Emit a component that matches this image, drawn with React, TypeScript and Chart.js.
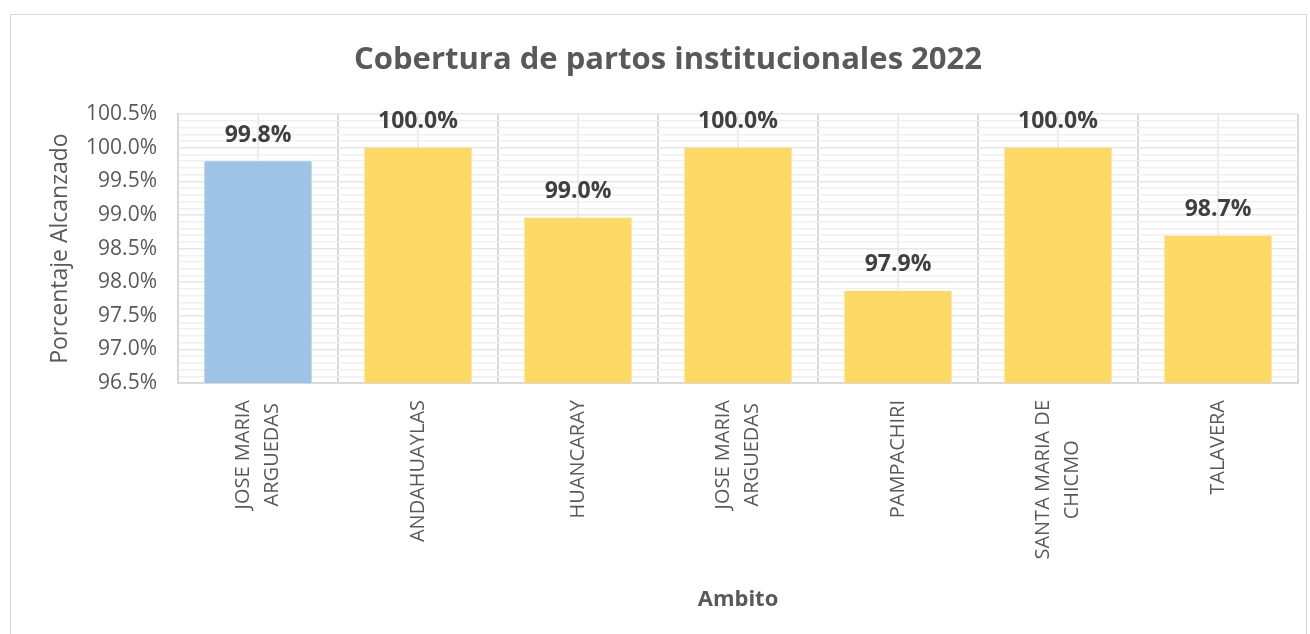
import React, { useEffect, useRef } from 'react';
import { Chart, registerables } from 'chart.js';

Chart.register(...registerables);

// ---- data ----
const categories: (string | string[])[] = [
  ['JOSE MARIA', 'ARGUEDAS'],
  'ANDAHUAYLAS',
  'HUANCARAY',
  ['JOSE MARIA', 'ARGUEDAS'],
  'PAMPACHIRI',
  ['SANTA MARIA DE', 'CHICMO'],
  'TALAVERA',
];
const values = [99.8, 100.0, 98.96, 100.0, 97.87, 100.0, 98.69];
const barColors = ['#9DC3E6', '#FFD966', '#FFD966', '#FFD966', '#FFD966', '#FFD966', '#FFD966'];
const yMin = 96.5;
const yMax = 100.5;
const yMinorStep = 0.1;
const yMajorStep = 0.5;
const titleText = 'Cobertura de partos institucionales 2022';
const yTitle = 'Porcentaje Alcanzado';
const xTitle = 'Ambito';

const FONT = '"Open Sans", sans-serif';
const TEXT = '#595959';

const isMajor = (v: number) => {
  const r = v / yMajorStep;
  return Math.abs(r - Math.round(r)) < 1e-6;
};

const xLabelPlugin = {
  id: 'xLabels',
  afterDraw(chart: any) {
    const sx = chart.scales.x;
    const ctx = chart.ctx;
    ctx.save();
    ctx.font = `20px ${FONT}`;
    ctx.fillStyle = TEXT;
    ctx.textAlign = 'center';
    ctx.textBaseline = 'middle';
    const lh = 29;
    categories.forEach((lab, i) => {
      const lines = Array.isArray(lab) ? lab : [lab];
      const blockW = Math.max(...lines.map((l) => ctx.measureText(l).width));
      const x = sx.getPixelForTick(i);
      const y = sx.top + 17;
      ctx.save();
      ctx.translate(x, y);
      ctx.rotate(-Math.PI / 2);
      lines.forEach((l, j) => {
        ctx.fillText(l, -blockW / 2, (j - (lines.length - 1) / 2) * lh);
      });
      ctx.restore();
    });
    ctx.restore();
  },
};

const dataLabelPlugin = {
  id: 'dataLabels',
  afterDatasetsDraw(chart: any) {
    const ctx = chart.ctx;
    const meta = chart.getDatasetMeta(0);
    ctx.save();
    ctx.font = `bold 23px ${FONT}`;
    ctx.fillStyle = '#404040';
    ctx.textAlign = 'center';
    ctx.textBaseline = 'middle';
    meta.data.forEach((bar: any, i: number) => {
      ctx.fillText(values[i].toFixed(1) + '%', bar.x, bar.y - 26);
    });
    ctx.restore();
  },
};

export default function App() {
  const ref = useRef<HTMLCanvasElement | null>(null);
  useEffect(() => {
    if (!ref.current) return;
    const chart = new Chart(ref.current, {
      type: 'bar',
      data: {
        labels: categories as any,
        datasets: [
          {
            data: values,
            backgroundColor: barColors,
            barPercentage: 0.67,
            categoryPercentage: 1,
          },
        ],
      },
      options: {
        responsive: false,
        animation: false,
        devicePixelRatio: 1,
        layout: { padding: { left: 38, right: 12, top: 0, bottom: 20 } },
        plugins: {
          legend: { display: false },
          tooltip: { enabled: false },
          title: {
            display: true,
            text: titleText,
            color: TEXT,
            font: { family: FONT, size: 31, weight: 'bold' },
            padding: { top: 42, bottom: 35 },
          },
        },
        scales: {
          x: {
            type: 'category',
            ticks: { display: false },
            grid: { offset: true, color: '#d9d9d9', lineWidth: 2, drawTicks: false },
            border: { color: '#d9d9d9', width: 2 },
            title: {
              display: true,
              text: xTitle,
              color: TEXT,
              font: { family: FONT, size: 22, weight: 'bold' },
              padding: { top: 4, bottom: 1 },
            },
            afterFit: (s: any) => {
              s.height = 231;
            },
          },
          x2: {
            type: 'category',
            position: 'bottom',
            labels: categories as any,
            ticks: { display: false },
            grid: { offset: false, color: '#ececec', lineWidth: 2, drawTicks: false },
            border: { display: false },
            afterFit: (s: any) => {
              s.height = 0;
            },
          },
          y: {
            min: yMin,
            max: yMax,
            ticks: {
              stepSize: yMinorStep,
              autoSkip: false,
              padding: 21,
              color: TEXT,
              font: { family: FONT, size: 21 },
              callback: (v: any) => (isMajor(Number(v)) ? Number(v).toFixed(1) + '%' : ''),
            },
            grid: {
              drawTicks: false,
              color: (c: any) => (c.tick && isMajor(c.tick.value) ? '#e6e6e6' : '#f0f0f0'),
              lineWidth: 1.5,
            },
            border: { color: '#d9d9d9', width: 2 },
            title: {
              display: true,
              text: yTitle,
              color: TEXT,
              font: { family: FONT, size: 23 },
              padding: { top: 9, bottom: 0 },
            },
            afterFit: (s: any) => {
              s.width = 140;
            },
          },
        },
      },
      plugins: [xLabelPlugin, dataLabelPlugin],
    } as any);
    return () => chart.destroy();
  }, []);

  return (
    <div style={{ position: 'absolute', left: 0, top: 0, width: 1310, height: 634, background: '#fff', overflow: 'hidden' }}>
      <canvas ref={ref} width={1310} height={634} style={{ display: 'block' }} />
      <div
        style={{
          position: 'absolute',
          left: 10,
          top: 14,
          width: 1295,
          height: 640,
          border: '1px solid #d9d9d9',
          pointerEvents: 'none',
        }}
      />
    </div>
  );
}
